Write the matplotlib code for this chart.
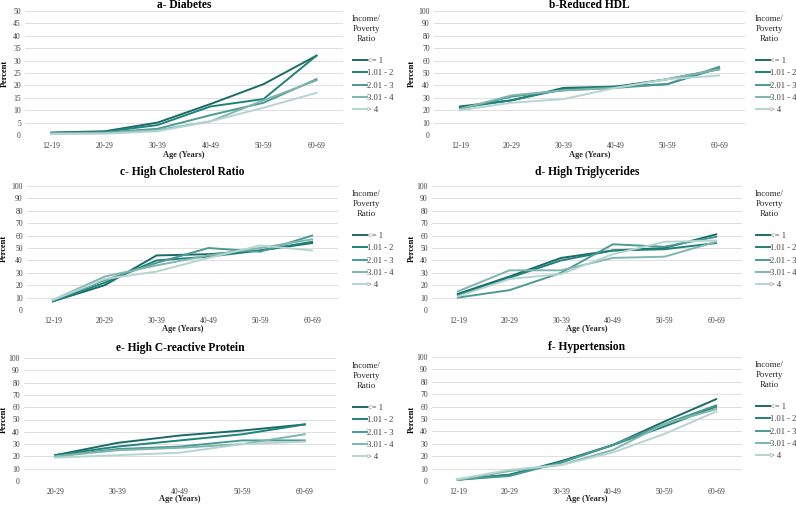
import matplotlib
matplotlib.use("Agg")
import matplotlib.pyplot as plt

plt.rcParams["font.family"] = ["Liberation Serif", "DejaVu Serif"]

W, H = 796, 505

edades = ["12-19", "20-29", "30-39", "40-49", "50-59", "60-69"]
edades_crp = ["20-29", "30-39", "40-49", "50-59", "60-69"]
grupos = ["<= 1", "1.01 - 2", "2.01 - 3", "3.01 - 4", "> 4"]

# porcentajes por grupo de ingreso (filas) y edad (columnas)
diabetes = [[1.0, 1.5, 5.0, 12.5, 20.5, 32.0],
            [0.8, 1.3, 4.0, 11.5, 14.5, 32.0],
            [0.7, 1.0, 2.5, 8.0, 13.0, 22.5],
            [0.5, 0.8, 2.0, 5.5, 14.0, 22.0],
            [0.5, 0.5, 1.5, 5.5, 11.0, 17.0]]
hdl = [[23, 28, 38, 39, 45, 53],
       [22, 28, 37, 39, 41, 54],
       [21, 31, 36, 38, 41, 55],
       [21, 32, 36, 38, 45, 53],
       [20, 26, 29, 38, 45, 48]]
colesterol = [[7, 20, 44, 45, 48, 54],
              [7, 22, 40, 43, 48, 55],
              [8, 24, 38, 50, 47, 60],
              [8, 27, 36, 44, 50, 57],
              [8, 25, 31, 42, 52, 48]]
trigliceridos = [[13, 27, 42, 48, 50, 61],
                 [12, 26, 40, 48, 49, 54],
                 [10, 16, 30, 53, 51, 59],
                 [15, 32, 32, 42, 43, 55],
                 [11, 25, 29, 45, 55, 56]]
crp = [[21, 31, 37, 41, 46],
       [21, 28, 33, 38, 46],
       [20, 26, 28, 33, 33],
       [20, 25, 27, 30, 38],
       [19, 21, 23, 30, 32]]
hipertension = [[1.0, 5, 16, 29, 48, 66],
                [1.5, 5, 15, 29, 44, 60],
                [1.0, 4, 15, 29, 46, 61],
                [1.0, 8, 13, 25, 46, 58],
                [1.5, 9, 13, 23, 38, 56]]

colores = ["#1a6b65", "#1f827b", "#4c9a94", "#80b5b0", "#b6d5d1"]

# (titulo, datos, categorias, ymax, paso, caja en px: izq, der, arriba, abajo,
#  y titulo, x leyenda, x etiqueta y, y etiqueta x)
paneles = [
    ("a- Diabetes", diabetes, edades, 50, 5, (25, 343, 11, 135), 5, 353, 5, 155),
    ("b-Reduced HDL", hdl, edades, 100, 10, (434, 745, 11, 135), 5, 756, 412, 155),
    ("c- High Cholesterol Ratio", colesterol, edades, 100, 10, (27, 338, 186, 310), 172, 353, 4, 329),
    ("d- High Triglycerides", trigliceridos, edades, 100, 10, (432, 742, 186, 310), 172, 756, 412, 329),
    ("e- High C-reactive Protein", crp, edades_crp, 100, 10, (24, 336, 358, 481), 348, 353, 4, 499),
    ("f- Hypertension", hipertension, edades, 100, 10, (432, 742, 357, 481), 347, 756, 412, 499),
]

fig = plt.figure(figsize=(W / 100, H / 100), dpi=100)

for titulo, datos, cats, ymax, paso, caja, yt, xl, xyl, yxl in paneles:
    x0, x1, y0, y1 = caja
    ax = fig.add_axes([x0 / W, 1 - y1 / H, (x1 - x0) / W, (y1 - y0) / H])
    xs = range(len(cats))
    for serie, lab, c in zip(datos, grupos, colores):
        ax.plot(xs, serie, color=c, lw=1.4, label=lab)
    ax.set_xlim(-0.5, len(cats) - 0.5)
    ax.set_ylim(0, ymax)
    ax.set_yticks(range(0, ymax + 1, paso))
    ax.set_xticks(list(xs))
    ax.set_xticklabels(cats)
    ax.grid(axis="y", color="#d9d9d9", lw=0.6)
    ax.set_axisbelow(True)
    for s in ax.spines.values():
        s.set_visible(False)
    ax.tick_params(axis="y", length=0, labelsize=5.5, pad=3, labelcolor="#404040")
    ax.tick_params(axis="x", length=0, labelsize=5.5, pad=5, labelcolor="#404040")

    # etiquetas de ejes y titulo en posiciones fijas (como el original)
    fig.text(xyl / W, 1 - (y0 + y1) / 2 / H, "Percent", rotation=90, ha="center",
             va="center", fontsize=6, fontweight="bold")
    fig.text((x0 + x1) / 2 / W, 1 - yxl / H, "Age (Years)", ha="center",
             va="center", fontsize=6, fontweight="bold", color="#262626")
    fig.text((x0 + x1) / 2 / W, 1 - yt / H, titulo, ha="center", va="center",
             fontsize=8.3, fontweight="bold")

    # titulo de la leyenda y entradas
    fig.text((xl + 13) / W, 1 - (y0 + 4) / H, "Income/\nPoverty\nRatio", ha="center",
             va="top", fontsize=6.3, linespacing=1.3, color="#262626")
    ley = ax.legend(loc="upper left", bbox_to_anchor=(xl / W, 1 - (y0 + 46) / H),
                    bbox_transform=fig.transFigure, frameon=False, fontsize=6.2,
                    handlelength=1.6, handletextpad=0.05, labelspacing=0.5,
                    borderpad=0, borderaxespad=0)
    for t in ley.get_texts():
        t.set_color("#404040")

fig.savefig("out.png", dpi=100, facecolor="white")
